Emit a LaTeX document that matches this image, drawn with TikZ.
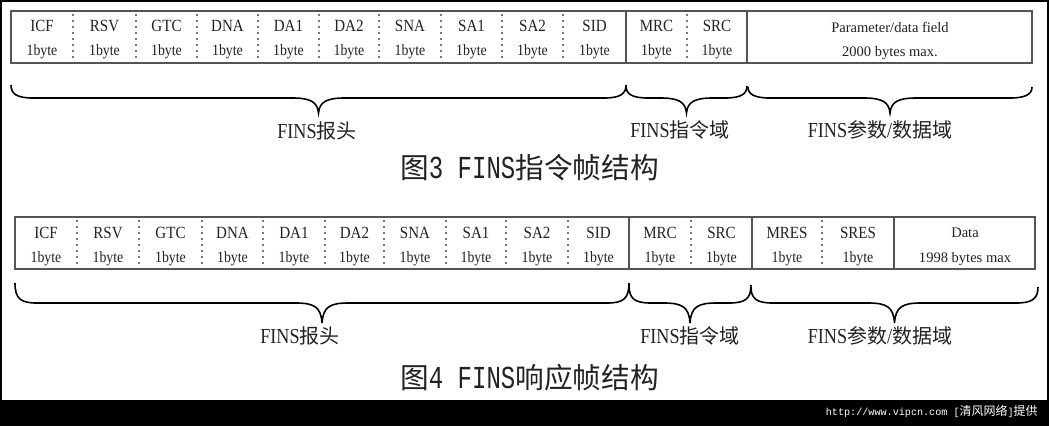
\documentclass[tikz,border=0pt]{standalone}
\usepackage{fontspec}
\setmainfont{Liberation Serif}
\newfontfamily\cjk{Noto Sans CJK SC}
\newfontfamily\cellfont[FakeStretch=0.88]{Liberation Serif}
\newfontfamily\finsfont[FakeStretch=0.85]{Liberation Serif}
\newfontfamily\titlemono[FakeStretch=0.75]{Liberation Mono}
\newfontfamily\urlmono{Liberation Mono}
\definecolor{ink}{HTML}{222222}
\definecolor{rule}{HTML}{555555}
\newcommand{\curlyb}[5]{%
  \pgfmathsetmacro\xm{(#1+#2)/2}%
  \draw[bracestyle] (#1,#3) .. controls (#1,#4-4) and (#1+6,#4) .. (#1+22,#4)
    -- (\xm-26,#4) .. controls (\xm-8,#4) and (\xm-1,#4+4) .. (\xm,#5)
    .. controls (\xm+1,#4+4) and (\xm+8,#4) .. (\xm+26,#4)
    -- (#2-22,#4) .. controls (#2-6,#4) and (#2,#4-4) .. (#2,#3);%
}
\begin{document}
\begin{tikzpicture}[x=0.75pt,y=-0.75pt,
  tbl/.style={draw=rule,line width=1.1pt},
  soliddiv/.style={draw=rule,line width=1pt},
  dashdiv/.style={draw=rule!80,line width=0.8pt,dash pattern=on 1.8pt off 2.7pt},
  bracestyle/.style={draw=black,line width=1.2pt},
  lab/.style={inner sep=0pt,text=ink,font=\cellfont\fontsize{12.8pt}{14pt}\selectfont},
  byt/.style={inner sep=0pt,text=ink,font=\cellfont\fontsize{11.8pt}{13pt}\selectfont},
  small/.style={inner sep=0pt,text=ink,font=\rmfamily\fontsize{10.9pt}{12pt}\selectfont},
  part/.style={inner sep=0pt,text=ink,font=\fontsize{15pt}{17pt}\selectfont},
  ttl/.style={inner sep=0pt,anchor=west,text=ink,font=\fontsize{21.5pt}{24pt}\selectfont},
]
\useasboundingbox (0,0) rectangle (1049,426);
\fill[black] (0,0) rectangle (1049,426);
\fill[white] (1.5,1.5) rectangle (1047,400);

% ---------- Table 1 ----------
\draw[tbl] (11,11) rectangle (1032,63);
\foreach \x in {73,136,197,258,319,379,441,502,563,687}
  \draw[dashdiv] (\x,14) -- (\x,60);
\foreach \x in {626,747}
  \draw[soliddiv] (\x,11) -- (\x,63);
\foreach \a/\b/\t [count=\i] in {11/73/ICF,73/136/RSV,136/197/GTC,197/258/DNA,258/319/DA1,319/379/DA2,379/441/SNA,441/502/SA1,502/563/SA2,563/626/SID,626/687/MRC,687/747/SRC}{
  \node[lab] (ta\i) at ({(\a+\b)/2},26) {\t};
  \node[byt] (tb\i) at ({(\a+\b)/2},52) {1byte};
}
\node[small] (tap) at (890,27) {Parameter/data field};
\node[small] (tbp) at (890,53) {2000 bytes max.};

\curlyb{11}{626}{85}{98}{113}
\curlyb{626}{747}{86}{98}{113}
\curlyb{748}{1032}{87}{98}{113}

\node[part] (h1) at (317,131) {{\finsfont\fontsize{16pt}{17pt}\selectfont FINS}{\cjk 报头}};
\node[part] (c1) at (680,130) {{\finsfont\fontsize{16pt}{17pt}\selectfont FINS}{\cjk 指令域}};
\node[part] (p1) at (880,130) {{\finsfont\fontsize{16pt}{17pt}\selectfont FINS}{\cjk 参数}{\finsfont\fontsize{16pt}{17pt}\selectfont /}{\cjk 数据域}};

\node[ttl] (title1) at (400,168) {{\cjk 图}{\titlemono\fontsize{24pt}{26pt}\selectfont 3 FINS}{\cjk 指令帧结构}};

% ---------- Table 2 ----------
\draw[tbl] (15,217) rectangle (1035,269);
\foreach \x in {77,139,202,263,325,384,446,506,568,691,822}
  \draw[dashdiv] (\x,220) -- (\x,266);
\foreach \x in {629,752,894}
  \draw[soliddiv] (\x,217) -- (\x,269);
\foreach \a/\b/\t [count=\i] in {15/77/ICF,77/139/RSV,139/202/GTC,202/263/DNA,263/325/DA1,325/384/DA2,384/446/SNA,446/506/SA1,506/568/SA2,568/629/SID,629/691/MRC,691/752/SRC,752/822/MRES,822/894/SRES}{
  \node[lab] (ua\i) at ({(\a+\b)/2},233) {\t};
  \node[byt] (ub\i) at ({(\a+\b)/2},259) {1byte};
}
\node[small] (uad) at (965,233) {Data};
\node[small] (ubd) at (965,259) {1998 bytes max};

\curlyb{15}{629}{283}{303}{323}
\curlyb{629}{751}{285}{303}{323}
\curlyb{751}{1038}{287}{303}{323}

\node[part] (h2) at (300,336) {{\finsfont\fontsize{16pt}{17pt}\selectfont FINS}{\cjk 报头}};
\node[part] (c2) at (690,336) {{\finsfont\fontsize{16pt}{17pt}\selectfont FINS}{\cjk 指令域}};
\node[part] (p2) at (880,336) {{\finsfont\fontsize{16pt}{17pt}\selectfont FINS}{\cjk 参数}{\finsfont\fontsize{16pt}{17pt}\selectfont /}{\cjk 数据域}};

\node[ttl] (title2) at (400,378) {{\cjk 图}{\titlemono\fontsize{24pt}{26pt}\selectfont 4 FINS}{\cjk 响应帧结构}};

% ---------- footer ----------
\node[inner sep=0pt,anchor=east,text=white] (src) at (1038,411)
  {{\urlmono\fontsize{7.6pt}{9pt}\selectfont http://www.vipcn.com [}{\cjk\fontsize{9pt}{10pt}\selectfont 清风网络}{\urlmono\fontsize{7.6pt}{9pt}\selectfont ]}{\cjk\fontsize{9pt}{10pt}\selectfont 提供}};
\end{tikzpicture}
\end{document}
